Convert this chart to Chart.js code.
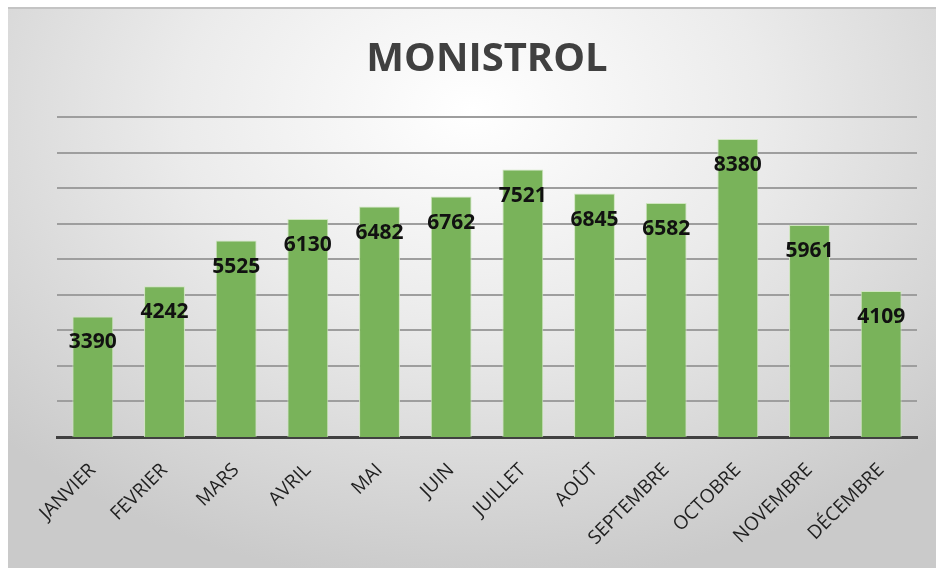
<!DOCTYPE html>
<html>
<head>
<meta charset="utf-8">
<script src="https://cdn.jsdelivr.net/npm/chart.js@4"></script>
<style>
    html, body { margin: 0; padding: 0; background: #ffffff; }
    #panel {
        position: absolute; left: 8px; top: 7px; width: 928px; height: 561px;
        border-top: 2px solid #c4c4c4;
        background: radial-gradient(ellipse 70% 85% at 50% 18%, #ffffff 0%, #ebebeb 45%, #cacaca 100%);
    }
    #wrap { position: absolute; left: 0; top: 0; width: 936px; height: 568px; }
</style>
</head>
<body>
<div id="panel"></div>
<div id="wrap"><canvas id="chart" width="936" height="568"></canvas></div>
<script>
// données
const mois = ['JANVIER', 'FEVRIER', 'MARS', 'AVRIL', 'MAI', 'JUIN', 'JUILLET', 'AOÛT', 'SEPTEMBRE', 'OCTOBRE', 'NOVEMBRE', 'DÉCEMBRE'];
const valeurs = [3390, 4242, 5525, 6130, 6482, 6762, 7521, 6845, 6582, 8380, 5961, 4109];
const titre = 'MONISTROL';

// étiquettes de valeur dans le haut des barres
const valueLabels = {
    id: 'valueLabels',
    afterDatasetsDraw(chart) {
        const ctx = chart.ctx;
        const meta = chart.getDatasetMeta(0);
        ctx.save();
        ctx.font = 'bold 21px "Open Sans"';
        ctx.fillStyle = '#111111';
        ctx.textAlign = 'center';
        ctx.textBaseline = 'middle';
        meta.data.forEach((bar, i) => {
            ctx.fillText(String(valeurs[i]), bar.x, bar.y + 26);
        });
        ctx.restore();
    }
};

const ctx = document.getElementById('chart').getContext('2d');
new Chart(ctx, {
    type: 'bar',
    data: {
        labels: mois,
        datasets: [{
            data: valeurs,
            backgroundColor: '#79b35a',
            borderColor: '#cfe6bf',
            borderWidth: 1,
            categoryPercentage: 1,
            barPercentage: 0.57
        }]
    },
    options: {
        responsive: false,
        animation: false,
        layout: { padding: { left: 57, right: 19, top: 0, bottom: 0 } },
        plugins: {
            legend: { display: false },
            tooltip: { enabled: false },
            title: {
                display: true,
                text: titre,
                color: '#404040',
                font: { family: '"Open Sans"', size: 40, weight: 'bold' },
                padding: { top: 36, bottom: 33 }
            }
        },
        scales: {
            x: {
                grid: { display: false },
                border: { display: true, color: '#404040', width: 3 },
                ticks: {
                    color: '#1f1f1f',
                    font: { family: '"Open Sans"', size: 19 },
                    minRotation: 45,
                    maxRotation: 45,
                    autoSkip: false,
                    padding: 14
                },
                afterFit(scale) { scale.height = 131; }
            },
            y: {
                min: 0,
                max: 9000,
                grid: {
                    drawTicks: false,
                    color: '#9e9e9e',
                    lineWidth: (c) => (c.tick && c.tick.value === 0 ? 0 : 2)
                },
                border: { display: false },
                ticks: { display: false, stepSize: 1000 },
                afterFit(scale) { scale.width = 0; }
            }
        }
    },
    plugins: [valueLabels]
});
</script>
</body>
</html>
